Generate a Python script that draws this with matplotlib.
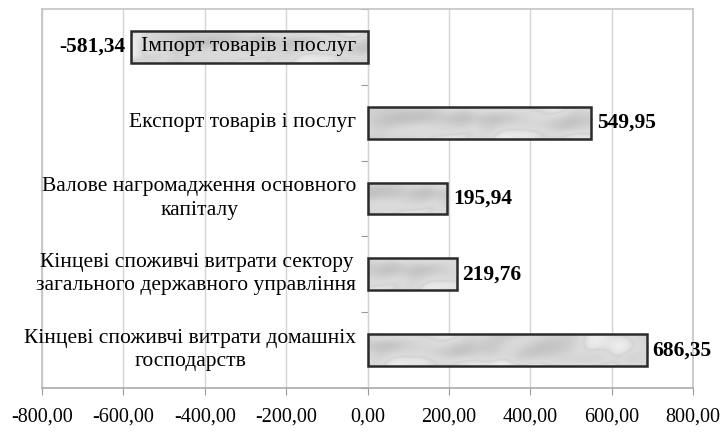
import numpy as np
import matplotlib.pyplot as plt

# дані: категорії зверху вниз та значення
categories = [
    "Імпорт товарів і послуг",
    "Експорт товарів і послуг",
    "Валове нагромадження основного\nкапіталу",
    "Кінцеві споживчі витрати сектору\nзагального державного управління",
    "Кінцеві споживчі витрати домашніх\nгосподарств",
]
values = [-581.34, 549.95, 195.94, 219.76, 686.35]
xticks = [-800, -600, -400, -200, 0, 200, 400, 600, 800]

plt.rcParams['font.family'] = ['Liberation Serif', 'DejaVu Serif']


def fmt(v):
    return "{:.2f}".format(v).replace('.', ',')


def marble(w, h, phase):
    # детермінована "мармурова" текстура (сірі хмарки) для заливки
    yy, xx = np.mgrid[0:h, 0:w].astype(float)
    xx = xx + phase
    t = (np.sin(0.021 * xx + 0.07 * yy + 2.6 * np.sin(0.013 * xx - 0.05 * yy + 1.3))
         + 0.7 * np.sin(0.047 * xx - 0.03 * yy + 2.1 * np.sin(0.019 * xx + 0.09 * yy))
         + 0.35 * np.sin(0.12 * xx + 0.19 * yy + 1.5 * np.sin(0.05 * xx - 0.07 * yy)))
    g = np.clip(0.85 + 0.045 * t - 0.06 * np.exp(-4 * np.abs(t - 0.8)), 0, 1)
    return np.dstack([g, g, g])


fig = plt.figure(figsize=(7.25, 4.32), dpi=100)
ax = fig.add_axes([42 / 725, 1 - 388 / 432, 651 / 725, 379 / 432])

ypos = np.arange(len(categories))
bars = ax.barh(ypos, values, height=0.42, color='none', edgecolor='#2a2a2a',
               linewidth=1.8, zorder=4)

for i, b in enumerate(bars):
    x0, x1 = sorted([0, values[i]])
    w = int(abs(values[i]) * 0.41) + 4
    im = ax.imshow(marble(w, 32, 37 * i), aspect='auto',
                   extent=[x0, x1, i + 0.21, i - 0.21], zorder=3,
                   interpolation='bilinear')
    im.set_clip_path(b)

ax.set_xlim(-800, 800)
ax.set_ylim(len(categories) - 0.5, -0.5)
ax.set_xticks(xticks)
ax.set_xticklabels([fmt(v) for v in xticks], fontsize=14.5)
ax.set_yticks([])
ax.tick_params(axis='x', length=5, color='#999999', pad=9)
ax.grid(axis='x', color='#d4d4d4', linewidth=1.0, zorder=0)
ax.set_axisbelow(True)
for s in ax.spines.values():
    s.set_color('#c4c4c4')
    s.set_linewidth(1.2)
ax.spines['bottom'].set_color('#aaaaaa')

# вертикальна вісь на нулі з поділками між категоріями
sec = ax.secondary_yaxis(0.5)
sec.set_yticks(np.arange(-0.5, len(categories), 1.0))
sec.set_yticklabels([])
sec.tick_params(axis='y', left=True, right=False, labelleft=False,
                labelright=False, length=5, color='#999999')
for s in sec.spines.values():
    s.set_color('#999999')

# підписи категорій біля нульової осі
for i, name in enumerate(categories):
    ax.annotate(name, (0, i), xytext=(-8, 0), textcoords='offset points',
                ha='right', va='center', multialignment='center',
                fontsize=15.5, zorder=5, linespacing=1.3)

# значення
for i, v in enumerate(values):
    off = 4 if v > 0 else -4
    ax.annotate(fmt(v), (v, i), xytext=(off, 0), textcoords='offset points',
                ha='left' if v > 0 else 'right', va='center',
                fontsize=15.5, fontweight='bold', zorder=5)

fig.savefig('out.png', dpi=100)
